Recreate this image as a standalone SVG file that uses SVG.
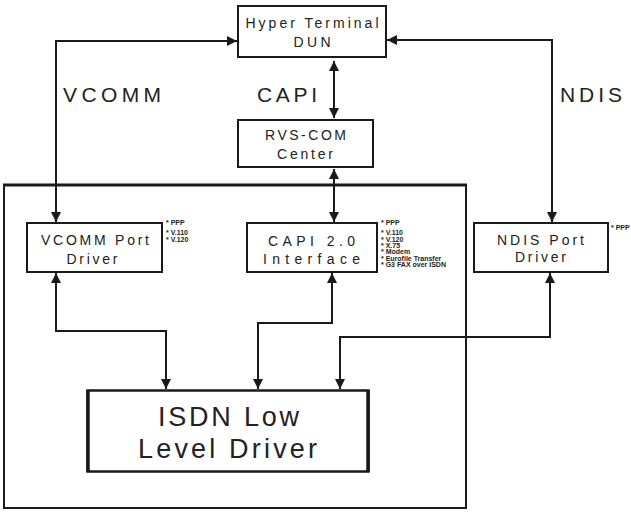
<svg xmlns="http://www.w3.org/2000/svg" width="631" height="512" viewBox="0 0 631 512">
<defs>
<marker id="ah" viewBox="0 0 10 10" refX="10" refY="5" markerWidth="5.5" markerHeight="5" orient="auto-start-reverse" markerUnits="strokeWidth">
<path d="M0,0 L10,5 L0,10 z" fill="#1a1a1a"/>
</marker>
<style>
.box{fill:#fff;stroke:#1a1a1a;stroke-width:2}
.t{font-family:"Liberation Sans",Arial,sans-serif;font-size:14px;fill:#222;text-anchor:middle}
.lab{font-family:"Liberation Sans",Arial,sans-serif;font-size:21px;fill:#222}
.big{font-family:"Liberation Sans",Arial,sans-serif;font-size:27px;fill:#222;text-anchor:middle}
.note{font-family:"Liberation Sans",Arial,sans-serif;font-size:7px;font-weight:bold;fill:#222}
.c{fill:none;stroke:#1a1a1a;stroke-width:2;marker-start:url(#ah);marker-end:url(#ah)}
</style>
</defs>
<rect width="631" height="512" fill="#fff"/>
<g id="outer">
<path d="M4,186 V508 H466 V186" fill="none" stroke="#1a1a1a" stroke-width="2"/>
<line x1="3" y1="185" x2="467" y2="185" stroke="#1a1a1a" stroke-width="3"/>
</g>
<g id="connectors">
<polyline class="c" points="56,222 56,41 237,41"/>
<polyline class="c" points="552,222 552,40 387,40"/>
<polyline class="c" points="334,61 334,118"/>
<polyline class="c" points="334,169 334,222"/>
<polyline class="c" points="56,273 56,331 166,331 166,389"/>
<polyline class="c" points="332,273 332,323 258,323 258,389"/>
<polyline class="c" points="550,273 550,337 340,337 340,389"/>
</g>
<g id="labels">
<text class="lab" x="63" y="102" textLength="98" lengthAdjust="spacing">VCOMM</text>
<text class="lab" x="257" y="102" textLength="60" lengthAdjust="spacing">CAPI</text>
<text class="lab" x="560" y="102" textLength="62" lengthAdjust="spacing">NDIS</text>
</g>
<g id="hyper">
<rect class="box" x="238" y="6" width="148" height="51"/>
<text class="t" x="312" y="28" textLength="133" lengthAdjust="spacing">Hyper Terminal</text>
<text class="t" x="312" y="47" textLength="37" lengthAdjust="spacing">DUN</text>
</g>
<g id="rvscom">
<rect class="box" x="238" y="120" width="135" height="47"/>
<text class="t" x="305.5" y="140" textLength="81" lengthAdjust="spacing">RVS-COM</text>
<text class="t" x="305" y="159" textLength="56" lengthAdjust="spacing">Center</text>
</g>
<g id="vcomm">
<rect class="box" x="27" y="223" width="135" height="49"/>
<text class="t" x="95" y="245" textLength="108" lengthAdjust="spacing">VCOMM Port</text>
<text class="t" x="92" y="264" textLength="51" lengthAdjust="spacing">Driver</text>
<text class="note" x="166" y="225">* PPP</text>
<text class="note" x="166" y="235">* V.110</text>
<text class="note" x="166" y="241.5">* V.120</text>
</g>
<g id="capi">
<rect class="box" x="247" y="223" width="130" height="49"/>
<text class="t" x="311.5" y="246" textLength="87" lengthAdjust="spacing">CAPI 2.0</text>
<text class="t" x="311.5" y="264" textLength="97" lengthAdjust="spacing">Interface</text>
<text class="note" x="381" y="225">* PPP</text>
<text class="note" x="381" y="235">* V.110</text>
<text class="note" x="381" y="241.5">* V.120</text>
<text class="note" x="381" y="248">* X.75</text>
<text class="note" x="381" y="254">* Modem</text>
<text class="note" x="381" y="260.5">* Eurofile Transfer</text>
<text class="note" x="381" y="266.5">* G3 FAX over ISDN</text>
</g>
<g id="ndis">
<rect class="box" x="474" y="223" width="134" height="49"/>
<text class="t" x="540.5" y="245" textLength="87" lengthAdjust="spacing">NDIS Port</text>
<text class="t" x="540.5" y="262" textLength="51" lengthAdjust="spacing">Driver</text>
<text class="note" x="611" y="230">* PPP</text>
</g>
<g id="isdn">
<rect x="87.5" y="390.5" width="281" height="81" fill="#fff" stroke="#1a1a1a" stroke-width="2.5"/>
<line x1="88" y1="390" x2="88" y2="472" stroke="#1a1a1a" stroke-width="3.5"/>
<line x1="368" y1="390" x2="368" y2="472" stroke="#1a1a1a" stroke-width="3.5"/>
<text class="big" x="228.5" y="426" textLength="141" lengthAdjust="spacing">ISDN Low</text>
<text class="big" x="227.5" y="458" textLength="179" lengthAdjust="spacing">Level Driver</text>
</g>
</svg>
